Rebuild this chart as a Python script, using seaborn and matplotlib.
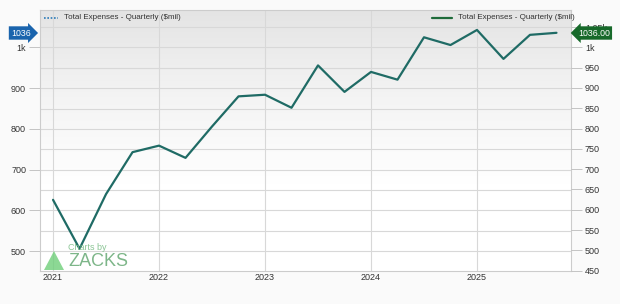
import numpy as np
import pandas as pd
import matplotlib
matplotlib.use("Agg")
import matplotlib.pyplot as plt
import seaborn as sns

# ---- data ----
quarters = [2021.0, 2021.25, 2021.5, 2021.75,
            2022.0, 2022.25, 2022.5, 2022.75,
            2023.0, 2023.25, 2023.5, 2023.75,
            2024.0, 2024.25, 2024.5, 2024.75,
            2025.0, 2025.25, 2025.5, 2025.75]
expenses = [626, 506, 640, 743,
            759, 729, 806, 880,
            884, 852, 956, 891,
            940, 921, 1025, 1006,
            1043, 972, 1031, 1036]
year_ticks = [2021, 2022, 2023, 2024, 2025]
left_ticks = [500, 600, 700, 800, 900, 1000]
left_labels = ["500", "600", "700", "800", "900", "1k"]
right_ticks = [450, 500, 550, 600, 650, 700, 750, 800, 850, 900, 950, 1000, 1050]
right_labels = ["450", "500", "550", "600", "650", "700", "750", "800", "850",
                "900", "950", "1k", "1.05k"]
series_name = "Total Expenses - Quarterly ($mil)"
last_left = "1036"
last_right = "1036.00"

df = pd.DataFrame({"quarter": quarters, "value": expenses})

sns.set_theme(style="white")
plt.rcParams['font.family'] = ['Liberation Sans', 'DejaVu Sans']

fig = plt.figure(figsize=(6.2, 3.04), dpi=100)
fig.patch.set_facecolor("#fafafa")
ax = fig.add_axes([40/620, 1-270.7/304, 531/620, 260.7/304])

YMIN, YMAX = 452, 1092
XMIN, XMAX = 2020.877, 2025.887

# gradient background
grad = np.linspace(0, 1, 256).reshape(-1, 1)
from matplotlib.colors import LinearSegmentedColormap
cmap = LinearSegmentedColormap.from_list("bg", ["#e4e4e4", "#f4f4f4", "#ffffff", "#ffffff"])
ax.imshow(grad, aspect="auto", cmap=cmap, extent=[XMIN, XMAX, YMIN, YMAX],
          origin="upper", zorder=0)

# grid
for yv in right_ticks:
    ax.axhline(yv, color="#d8d8d8", lw=0.8, zorder=1)
for xv in year_ticks:
    ax.axvline(xv, color="#d8d8d8", lw=0.8, zorder=1)

sns.lineplot(data=df, x="quarter", y="value", ax=ax, color="#1f6b65",
             lw=1.6, zorder=3)

ax.set_xlim(XMIN, XMAX)
ax.set_ylim(YMIN, YMAX)
ax.set_xlabel("")
ax.set_ylabel("")
ax.set_xticks(year_ticks)
ax.set_xticklabels([str(y) for y in year_ticks], fontsize=6.5, color="#333333")
ax.set_yticks(left_ticks)
ax.set_yticklabels(left_labels, fontsize=6.5, color="#333333")
ax.tick_params(axis="y", length=8, width=0.6, color="#bbbbbb", pad=2, left=True)
ax.tick_params(axis="x", length=0, pad=2)
for s in ax.spines.values():
    s.set_color("#cccccc")
    s.set_linewidth(0.8)

ax2 = ax.twinx()
ax2.set_ylim(YMIN, YMAX)
ax2.set_yticks(right_ticks)
ax2.set_yticklabels(right_labels, fontsize=6.5, color="#333333")
ax2.tick_params(axis="y", length=8, width=0.6, color="#bbbbbb", pad=2, right=True)
for s in ax2.spines.values():
    s.set_visible(False)

# legends
def fx(px):
    return px / 620
def fy(py):
    return 1 - py / 304

fig.add_artist(plt.Line2D([fx(44), fx(58)], [fy(17.5), fy(17.5)], color="#2a7ab8",
                          lw=1.2, ls=(0, (1, 1))))
fig.text(fx(64), fy(17.5), series_name, fontsize=5.8, color="#333333", va="center")
fig.add_artist(plt.Line2D([fx(432), fx(452)], [fy(17.5), fy(17.5)], color="#1e6b3a",
                          lw=1.6))
fig.text(fx(458), fy(17.5), series_name, fontsize=5.8, color="#333333", va="center")

# badges
fig.text(fx(11), fy(33), last_left, fontsize=6.3, color="white", va="center", ha="left",
         bbox=dict(boxstyle="rarrow,pad=0.25", fc="#1a64ad", ec="none"))
fig.text(fx(578), fy(33), last_right, fontsize=6.3, color="white", va="center", ha="left",
         bbox=dict(boxstyle="larrow,pad=0.25", fc="#17692a", ec="none"))

# watermark
fig.text(fx(68), fy(248), "Charts by", fontsize=6.5, color="#7fbf8a", va="center",
         alpha=0.9)
fig.text(fx(68), fy(262), "ZACKS", fontsize=13, color="#6fae7c", va="center",
         alpha=0.9)
tri = plt.Polygon([[fx(44), fy(270)], [fx(64), fy(270)], [fx(54), fy(251)]],
                  closed=True, fc="#6fcf7a", ec="none", alpha=0.8,
                  transform=fig.transFigure)
fig.add_artist(tri)

fig.savefig("out.png", dpi=100, facecolor=fig.get_facecolor())
